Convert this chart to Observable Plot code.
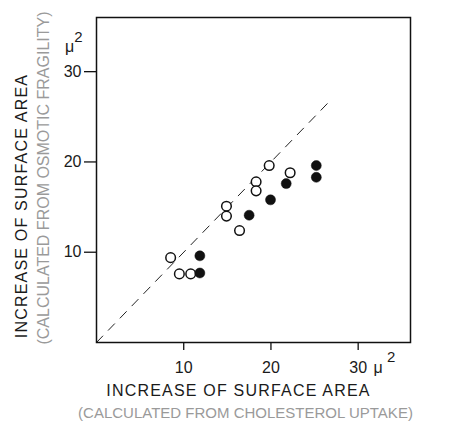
<!DOCTYPE html>
<html>
<head>
<meta charset="utf-8">
<script src="https://cdn.jsdelivr.net/npm/d3@7"></script>
<script src="https://cdn.jsdelivr.net/npm/@observablehq/plot@0.6"></script>
<style>
  html, body { margin: 0; padding: 0; background: white; }
  svg { display: block; }
</style>
</head>
<body>
<div id="chart"></div>
<script>
// Open circles
const openX = [8.5, 9.5, 10.8, 14.9, 14.9, 16.4, 18.3, 18.3, 19.8, 22.2];
const openY = [9.4, 7.6, 7.6, 15.1, 14.0, 12.4, 17.8, 16.8, 19.6, 18.8];
// Filled circles
const filledX = [11.85, 11.85, 17.5, 19.95, 21.75, 25.2, 25.2];
const filledY = [9.6, 7.7, 14.1, 15.8, 17.6, 19.6, 18.3];
// Line of identity (dashed), from 0 to 27
const diagonal = [0, 27];
const xTicks = [10, 20, 30];
const yTicks = [10, 20, 30];
const unitMu = "μ";
const unitExp = "2";
const axisTitle = "INCREASE OF SURFACE AREA";
const ySubtitle = "(CALCULATED FROM OSMOTIC FRAGILITY)";
const xSubtitle = "(CALCULATED FROM CHOLESTEROL UPTAKE)";

const openPts = openX.map((x, i) => ({x, y: openY[i]}));
const filledPts = filledX.map((x, i) => ({x, y: filledY[i]}));

const font = "'Liberation Sans', Arial, Helvetica, sans-serif";
const ink = "#1a1a1a";
const faded = "#9a9a9a";
const mid = {textAnchor: "middle", lineAnchor: "middle"};

const chart = Plot.plot({
  width: 465,
  height: 426,
  marginLeft: 96,
  marginRight: 55,
  marginTop: 17,
  marginBottom: 84,
  x: {domain: [0, 36]},
  y: {domain: [0, 36]},
  style: {fontFamily: font, fontSize: "16px", color: ink, background: "white"},
  marks: [
    Plot.line(diagonal, {x: d => d, y: d => d, stroke: "#222", strokeWidth: 1, strokeDasharray: "9,8"}),
    Plot.frame({stroke: "#111", strokeWidth: 1.5}),
    Plot.axisX({ticks: xTicks, tickSize: 8, tickPadding: 11, fontSize: 16, label: null, stroke: "#111", strokeWidth: 1.3}),
    Plot.axisY({ticks: yTicks, tickSize: 12, tickPadding: 3, fontSize: 16, label: null, stroke: "#111", strokeWidth: 1.3}),
    Plot.dot(openPts, {x: "x", y: "y", r: 4.8, stroke: "#111", strokeWidth: 1.5, fill: "white"}),
    Plot.dot(filledPts, {x: "x", y: "y", r: 5, fill: "#111", stroke: "#111", strokeWidth: 0.5}),
    // units
    Plot.text([unitMu], {x: 30, frameAnchor: "bottom", ...mid, dx: 20, dy: 25, fontSize: 16, fill: ink}),
    Plot.text([unitExp], {x: 30, frameAnchor: "bottom", ...mid, dx: 33, dy: 15, fontSize: 15, fill: ink}),
    Plot.text([unitMu], {y: 30, frameAnchor: "left", ...mid, dx: -27, dy: -25, fontSize: 16, fill: ink}),
    Plot.text([unitExp], {y: 30, frameAnchor: "left", ...mid, dx: -18, dy: -34, fontSize: 15, fill: ink}),
    // axis titles
    Plot.text([axisTitle], {frameAnchor: "bottom", ...mid, dx: -15, dy: 48, fontSize: 16, fill: ink}),
    Plot.text([xSubtitle], {frameAnchor: "bottom", ...mid, dx: -8, dy: 71, fontSize: 15, fill: faded}),
    Plot.text([axisTitle], {frameAnchor: "left", ...mid, dx: -75, dy: 26, rotate: -90, fontSize: 16, fill: ink}),
    Plot.text([ySubtitle], {frameAnchor: "left", ...mid, dx: -53, dy: -2, rotate: -90, fontSize: 16, fill: faded})
  ]
});

// letter spacing for the axis titles
d3.select(chart).selectAll("text")
  .filter(function() { return this.textContent === axisTitle; })
  .attr("letter-spacing", "1.2");

document.getElementById("chart").appendChild(chart);
</script>
</body>
</html>
